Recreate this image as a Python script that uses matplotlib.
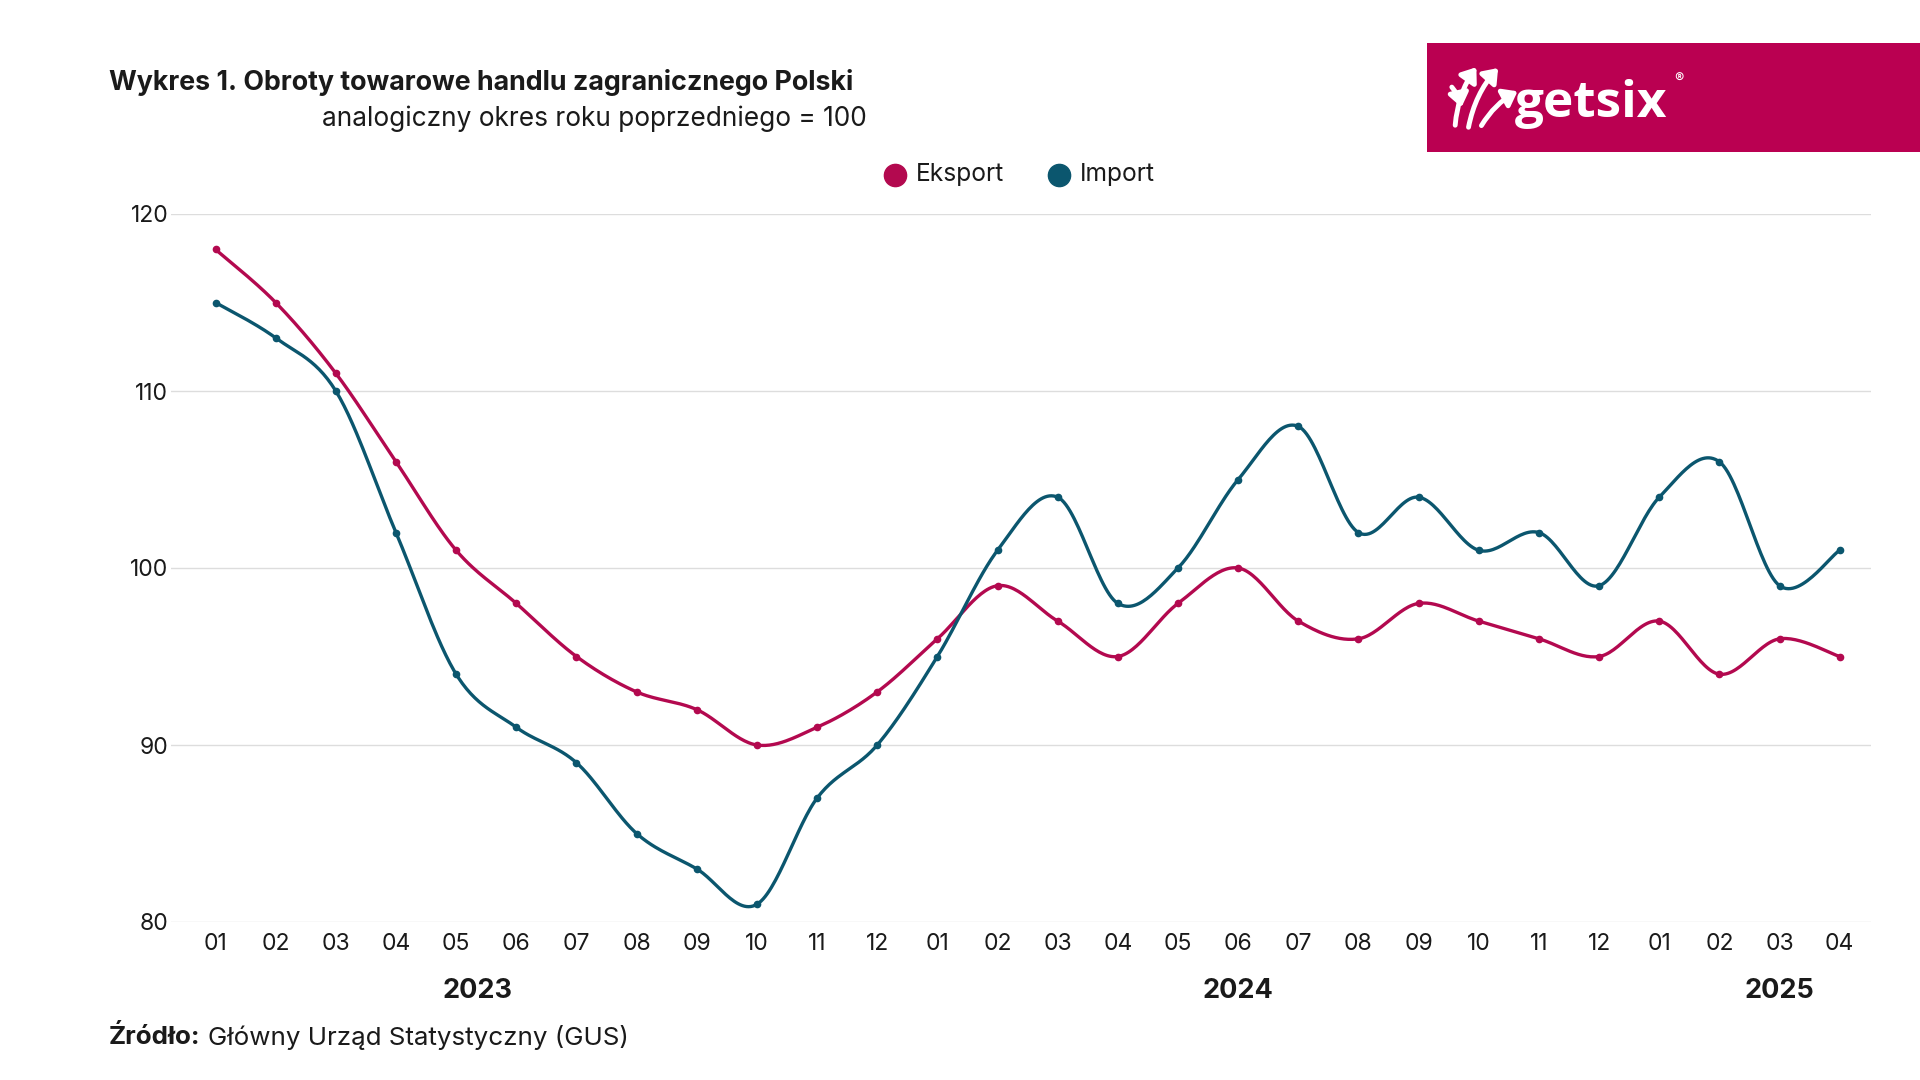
#! /usr/bin/env python3

import matplotlib.pyplot as plt
import numpy as np
from matplotlib.patches import Rectangle, FancyArrowPatch

plt.rcParams['font.family'] = ['Inter', 'DejaVu Sans']

# data
months = ['01', '02', '03', '04', '05', '06', '07', '08', '09', '10', '11', '12',
          '01', '02', '03', '04', '05', '06', '07', '08', '09', '10', '11', '12',
          '01', '02', '03', '04']
years = ['2023', '2024', '2025']
yearPos = [4.35, 17, 26]

eksport = [118, 115, 111, 106, 101, 98, 95, 93, 92, 90, 91, 93,
           96, 99, 97, 95, 98, 100, 97, 96, 98, 97, 96, 95,
           97, 94, 96, 95]
imp = [115, 113, 110, 102, 94, 91, 89, 85, 83, 81, 87, 90,
       95, 101, 104, 98, 100, 105, 108, 102, 104, 101, 102, 99,
       104, 106, 99, 101]

EKS_C = '#b3094f'
IMP_C = '#0b566e'
TXT_C = '#1a1a1a'


def smooth(x, y, n=30):
    # catmull-rom style bezier through points
    x = np.asarray(x, float)
    y = np.asarray(y, float)
    px = np.concatenate(([x[0]], x, [x[-1]]))
    py = np.concatenate(([y[0]], y, [y[-1]]))
    xs, ys = [], []
    t = np.linspace(0, 1, n)
    for i in range(1, len(px) - 2):
        p0 = np.array([px[i - 1], py[i - 1]])
        p1 = np.array([px[i], py[i]])
        p2 = np.array([px[i + 1], py[i + 1]])
        p3 = np.array([px[i + 2], py[i + 2]])
        c1 = p1 + (p2 - p0) / 6.
        c2 = p2 - (p3 - p1) / 6.
        b = ((1 - t) ** 3)[:, None] * p1 + (3 * (1 - t) ** 2 * t)[:, None] * c1 \
            + (3 * (1 - t) * t ** 2)[:, None] * c2 + (t ** 3)[:, None] * p2
        xs.append(b[:, 0])
        ys.append(b[:, 1])
    return np.concatenate(xs), np.concatenate(ys)


fig = plt.figure(figsize=(19.2, 10.8), dpi=100, facecolor='w')
ax = fig.add_axes([171 / 1920, 1 - 922 / 1080, 1700 / 1920, 708 / 1080])

xi = np.arange(len(months))
for vals, col in ((eksport, EKS_C), (imp, IMP_C)):
    sx, sy = smooth(xi, vals)
    ax.plot(sx, sy, color=col, lw=2.4, solid_capstyle='round', zorder=3)
    ax.plot(xi, vals, 'o', color=col, ms=4.5, zorder=4)

ax.set_xlim(-0.74, 27.52)
ax.set_ylim(80, 120)
ax.set_yticks([80, 90, 100, 110, 120])
ax.set_xticks(xi)
ax.set_xticklabels(months)
ax.tick_params(axis='both', length=0, labelsize=16.5, colors=TXT_C)
ax.tick_params(axis='x', pad=8)
ax.tick_params(axis='y', pad=2)
ax.grid(axis='y', color='#dddddd', lw=1)
ax.set_axisbelow(True)
for s in ax.spines.values():
    s.set_visible(False)

yearY = 80 - (991 - 922) / 708 * 40
for yr, p in zip(years, yearPos):
    ax.text(p, yearY, yr, ha='center', va='center', fontsize=19.5,
            fontweight='bold', color=TXT_C, clip_on=False)

# titles
fig.text(109 / 1920, 1 - 83 / 1080, 'Wykres 1. Obroty towarowe handlu zagranicznego Polski',
         ha='left', va='center', fontsize=19.3, fontweight='bold', color=TXT_C)
fig.text(867 / 1920, 1 - 119 / 1080, 'analogiczny okres roku poprzedniego = 100',
         ha='right', va='center', fontsize=18.9, color=TXT_C)

# legend
legY = 1 - 174 / 1080
fig.lines.append(plt.Line2D([895 / 1920], [legY - 1 / 1080], marker='o', ms=16, color=EKS_C,
                            transform=fig.transFigure, figure=fig))
fig.text(916 / 1920, legY, 'Eksport', ha='left', va='center', fontsize=17.7, color=TXT_C)
fig.lines.append(plt.Line2D([1059 / 1920], [legY - 1 / 1080], marker='o', ms=16, color=IMP_C,
                            transform=fig.transFigure, figure=fig))
fig.text(1080 / 1920, legY, 'Import', ha='left', va='center', fontsize=17.7, color=TXT_C)

# source
fig.text(109 / 1920, 1 - 1037 / 1080, 'Źródło:', ha='left', va='center',
         fontsize=18.7, fontweight='bold', color=TXT_C)
fig.text(208 / 1920, 1 - 1037 / 1080, 'Główny Urząd Statystyczny (GUS)', ha='left', va='center',
         fontsize=18.7, color=TXT_C)

# logo
fig.patches.append(Rectangle((1427 / 1920, 1 - 152 / 1080), 493 / 1920, 109 / 1080,
                             transform=fig.transFigure, facecolor='#ba0051', edgecolor='none'))
for (x0, y0, x1, y1) in [(1455, 128, 1478, 65), (1468, 130, 1500, 66), (1480, 128, 1520, 90),
                         (1450, 85, 1462, 110)]:
    fig.patches.append(FancyArrowPatch((x0 / 1920, 1 - y0 / 1080), (x1 / 1920, 1 - y1 / 1080),
                                       transform=fig.transFigure, arrowstyle='-|>,head_length=8,head_width=6',
                                       connectionstyle='arc3,rad=-0.15', color='white', lw=3.5))
fig.text(1515 / 1920, 1 - 104 / 1080, 'getsix', ha='left', va='center', fontsize=37,
         fontweight='bold', color='white', family=['Open Sans', 'DejaVu Sans'])
fig.text(1674 / 1920, 1 - 80 / 1080, '®', ha='left', va='center', fontsize=10, color='white')

fig.savefig('out.png', dpi=100, facecolor='w')
